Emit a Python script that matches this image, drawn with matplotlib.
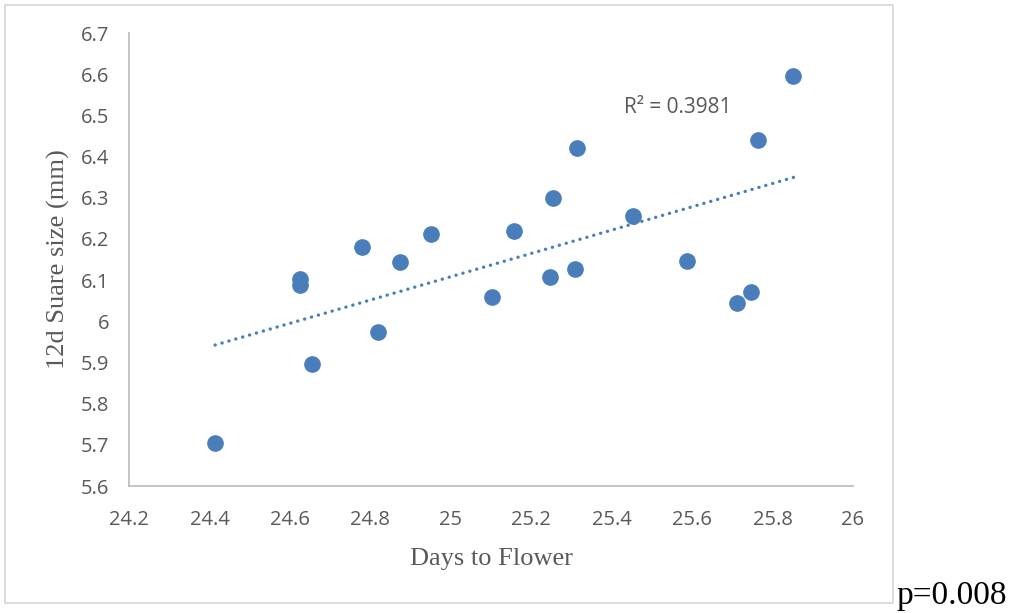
import numpy as np
import matplotlib.pyplot as plt
from matplotlib.patches import Rectangle

# datos
days = [24.414, 24.625, 24.625, 24.655, 24.780, 24.819, 24.874, 24.951, 25.103, 25.158,
        25.247, 25.255, 25.309, 25.314, 25.454, 25.588, 25.712, 25.747, 25.765, 25.852]
size = [5.704, 6.102, 6.088, 5.896, 6.180, 5.974, 6.144, 6.212, 6.059, 6.219,
        6.107, 6.299, 6.127, 6.420, 6.255, 6.146, 6.045, 6.071, 6.440, 6.595]
xticks = [24.2, 24.4, 24.6, 24.8, 25, 25.2, 25.4, 25.6, 25.8, 26]
yticks = [5.6, 5.7, 5.8, 5.9, 6, 6.1, 6.2, 6.3, 6.4, 6.5, 6.6, 6.7]

azul = '#4a7ebb'
gris = '#595959'

x = np.array(days)
y = np.array(size)

# recta de tendencia
m, b = np.polyfit(x, y, 1)
xs = np.array([x.min(), x.max()])

fig = plt.figure(figsize=(10.17, 6.13), dpi=100)
ax = fig.add_axes([129 / 1017, 1 - 486 / 613, (853 - 129) / 1017, (486 - 33) / 613])

ax.plot(xs, m * xs + b, color=azul, lw=2.4, linestyle=(0, (0.05, 2.1)), dash_capstyle='round')
ax.plot(x, y, 'o', color=azul, ms=11, mec=azul)

ax.set_xlim(24.2, 26)
ax.set_ylim(5.6, 6.7)
ax.set_xticks(xticks)
ax.set_xticklabels([f'{v:g}' for v in xticks])
ax.set_yticks(yticks)
ax.set_yticklabels([f'{v:g}' for v in yticks])
ax.tick_params(length=0, labelsize=14.5, labelcolor=gris)
ax.tick_params(axis='x', pad=17)
ax.tick_params(axis='y', pad=14)
for lab in ax.get_xticklabels() + ax.get_yticklabels():
    lab.set_family('Open Sans')
for s in ['top', 'right']:
    ax.spines[s].set_visible(False)
for s in ['left', 'bottom']:
    ax.spines[s].set_color('#bfbfbf')
    ax.spines[s].set_linewidth(1.3)

ax.set_xlabel('Days to Flower', family='Liberation Serif', fontsize=19, color=gris, labelpad=13)
ax.set_ylabel('12d Suare size (mm)', family='Liberation Serif', fontsize=19, color=gris, labelpad=8)

ax.text(25.43, 6.52, 'R² = 0.3981', family='Open Sans', fontsize=15, color=gris, va='center')

# marco exterior
fig.patches.append(Rectangle((5 / 1017, 1 - 603 / 613), 888 / 1017, 598 / 613,
                             transform=fig.transFigure, fill=False, edgecolor='#d9d9d9', lw=1.3))
fig.text(896 / 1017, 1 - 596 / 613, 'p=0.008', family='Liberation Serif', fontsize=24, va='center')

plt.savefig('out.png', dpi=100)
